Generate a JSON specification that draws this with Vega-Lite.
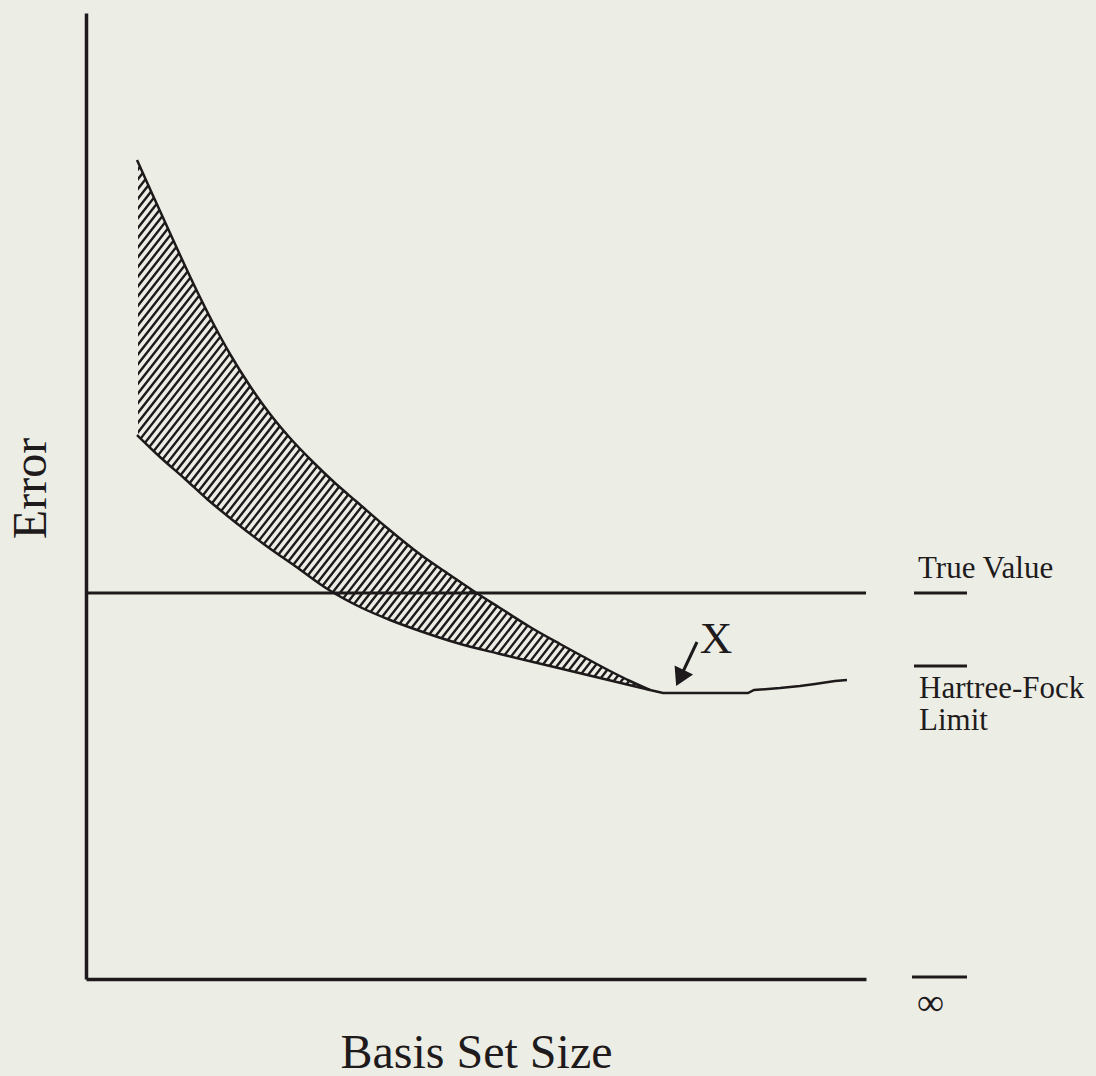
{
  "$schema": "https://vega.github.io/schema/vega-lite/v6.json",
  "width": 780,
  "height": 966,
  "autosize": {"type": "none"},
  "padding": {"left": 86, "top": 13, "right": 230, "bottom": 97},
  "background": "#eceee6",
  "config": {"view": {"stroke": null}, "font": "Liberation Serif"},
  "datasets": {
    "upper": [
      {"x": 5.1, "y": 81.9}, {"x": 6.4, "y": 79.0}, {"x": 7.9, "y": 75.7}, {"x": 9.4, "y": 72.4},
      {"x": 10.9, "y": 69.2}, {"x": 12.7, "y": 65.6}, {"x": 14.4, "y": 62.5}, {"x": 16.4, "y": 59.3},
      {"x": 18.4, "y": 56.5}, {"x": 20.4, "y": 54.1}, {"x": 22.7, "y": 51.7}, {"x": 24.9, "y": 49.6},
      {"x": 27.1, "y": 47.7}, {"x": 30.0, "y": 45.2}, {"x": 33.5, "y": 42.4}, {"x": 36.4, "y": 40.4},
      {"x": 38.9, "y": 38.7}, {"x": 41.4, "y": 37.1}, {"x": 44.4, "y": 35.2}, {"x": 47.4, "y": 33.5},
      {"x": 49.6, "y": 32.3}, {"x": 52.4, "y": 30.8}, {"x": 54.4, "y": 29.8}, {"x": 56.4, "y": 28.9}
    ],
    "lower": [
      {"x": 5.1, "y": 54.4}, {"x": 7.4, "y": 52.2}, {"x": 9.9, "y": 50.0}, {"x": 12.1, "y": 48.0},
      {"x": 14.9, "y": 45.7}, {"x": 17.9, "y": 43.4}, {"x": 20.9, "y": 41.3}, {"x": 24.3, "y": 38.9},
      {"x": 27.4, "y": 37.2}, {"x": 30.4, "y": 35.9}, {"x": 33.4, "y": 34.8}, {"x": 37.1, "y": 33.6},
      {"x": 41.4, "y": 32.5}, {"x": 46.4, "y": 31.3}, {"x": 51.4, "y": 30.1}, {"x": 56.4, "y": 28.9}
    ],
    "hf": [
      {"x": 56.4, "y": 28.9}, {"x": 57.7, "y": 28.6}, {"x": 61.4, "y": 28.6}, {"x": 66.2, "y": 28.6},
      {"x": 66.8, "y": 28.9}, {"x": 69.4, "y": 29.1}, {"x": 71.4, "y": 29.3}, {"x": 72.9, "y": 29.5},
      {"x": 74.9, "y": 29.8}, {"x": 76.1, "y": 29.9}
    ],
    "hatch": [{"x": -2.7, "y": 80.8, "x2": 63.5, "y2": 29.0}],
    "masks": [
      {"x": -40, "x2": 5.2, "y": -40, "y2": 140},
      {"x": 56.4, "x2": 140, "y": -40, "y2": 140}
    ],
    "hlines": [
      {"x": 0, "x2": 78, "y": 38.6},
      {"x": 82.8, "x2": 88.1, "y": 38.6},
      {"x": 82.8, "x2": 88.1, "y": 31.3},
      {"x": 82.6, "x2": 88.1, "y": 0.2}
    ],
    "arrow": [{"x": 61.1, "y": 33.7, "x2": 59.4, "y2": 30.1}],
    "head": [{"x": 59.4, "y": 30.1}],
    "labels": [
      {"x": 83.2, "y": 40.1, "label": "True Value"},
      {"x": 83.3, "y": 28.1, "label": "Hartree-Fock"},
      {"x": 83.3, "y": 24.9, "label": "Limit"}
    ],
    "inf": [{"x": 83.1, "y": -3.6, "label": "∞"}],
    "xmark": [{"x": 63.0, "y": 32.6, "label": "X"}]
  },
  "encoding": {
    "x": {
      "field": "x", "type": "quantitative",
      "scale": {"domain": [0, 78], "nice": false, "zero": false},
      "axis": {
        "title": "Basis Set Size", "domain": true, "domainColor": "#1e1a1b", "domainWidth": 3.5,
        "ticks": false, "labels": false, "grid": false,
        "titleFont": "Liberation Serif", "titleFontSize": 48, "titleFontWeight": "normal",
        "titleColor": "#1f1b1c", "titleBaseline": "alphabetic", "titlePadding": 88, "zindex": 1
      }
    },
    "y": {
      "field": "y", "type": "quantitative",
      "scale": {"domain": [0, 96.6], "nice": false, "zero": false},
      "axis": {
        "title": "Error", "domain": true, "domainColor": "#1e1a1b", "domainWidth": 3.5,
        "ticks": false, "labels": false, "grid": false,
        "titleFont": "Liberation Serif", "titleFontSize": 48, "titleFontWeight": "normal",
        "titleColor": "#1f1b1c", "titleBaseline": "alphabetic", "titlePadding": 41, "titleY": 475, "zindex": 1
      }
    }
  },
  "layer": [
    {
      "data": {"name": "hatch"},
      "mark": {"type": "rule", "color": "#1e1a1b", "strokeWidth": 500, "strokeDash": [2.4, 3.6], "strokeCap": "butt"},
      "encoding": {"x2": {"field": "x2"}, "y2": {"field": "y2"}}
    },
    {
      "data": {"name": "masks"},
      "mark": {"type": "rect", "color": "#eceee6", "opacity": 1},
      "encoding": {"x2": {"field": "x2"}, "y2": {"field": "y2"}}
    },
    {
      "data": {"name": "upper"},
      "mark": {"type": "area", "color": "#eceee6", "opacity": 1, "interpolate": "monotone"},
      "encoding": {"y2": {"datum": 140}}
    },
    {
      "data": {"name": "lower"},
      "mark": {"type": "area", "color": "#eceee6", "opacity": 1, "interpolate": "monotone"},
      "encoding": {"y2": {"datum": -40}}
    },
    {
      "data": {"name": "hlines"},
      "mark": {"type": "rule", "color": "#1e1a1b", "strokeWidth": 3},
      "encoding": {"x2": {"field": "x2"}}
    },
    {
      "data": {"name": "upper"},
      "mark": {"type": "line", "color": "#1e1a1b", "strokeWidth": 2.5, "interpolate": "monotone"},
      "encoding": {}
    },
    {
      "data": {"name": "lower"},
      "mark": {"type": "line", "color": "#1e1a1b", "strokeWidth": 2.5, "interpolate": "monotone"},
      "encoding": {}
    },
    {
      "data": {"name": "hf"},
      "mark": {"type": "line", "color": "#1e1a1b", "strokeWidth": 2.5},
      "encoding": {}
    },
    {
      "data": {"name": "arrow"},
      "mark": {"type": "rule", "color": "#1e1a1b", "strokeWidth": 3},
      "encoding": {"x2": {"field": "x2"}, "y2": {"field": "y2"}}
    },
    {
      "data": {"name": "head"},
      "mark": {"type": "point", "shape": "triangle-down", "filled": true, "size": 420, "angle": 25.6, "color": "#1e1a1b", "opacity": 1}
    },
    {
      "data": {"name": "labels"},
      "mark": {"type": "text", "align": "left", "baseline": "alphabetic", "fontSize": 31, "font": "Liberation Serif", "color": "#1f1b1c"},
      "encoding": {"text": {"field": "label"}}
    },
    {
      "data": {"name": "inf"},
      "mark": {"type": "text", "align": "left", "baseline": "alphabetic", "fontSize": 38, "font": "Liberation Serif", "color": "#1f1b1c"},
      "encoding": {"text": {"field": "label"}}
    },
    {
      "data": {"name": "xmark"},
      "mark": {"type": "text", "align": "center", "baseline": "alphabetic", "fontSize": 45, "font": "Liberation Serif", "color": "#1f1b1c"},
      "encoding": {"text": {"field": "label"}}
    }
  ]
}
